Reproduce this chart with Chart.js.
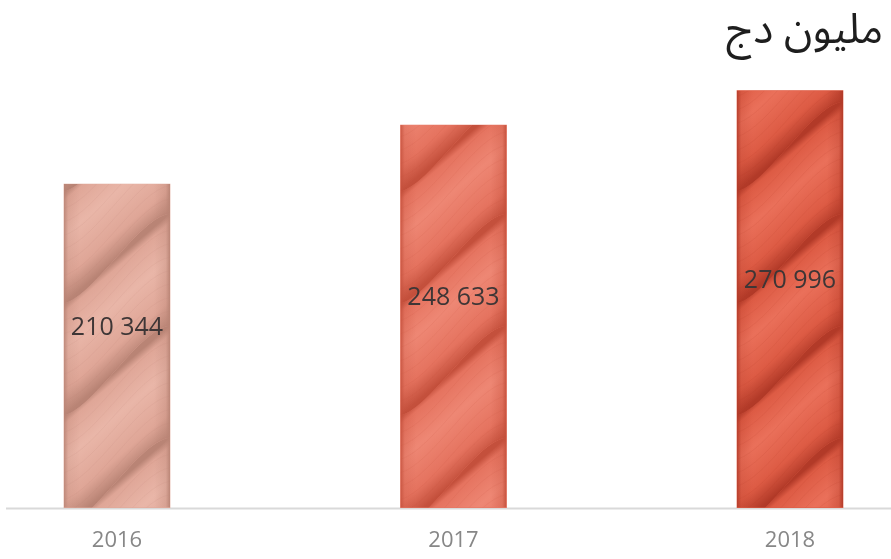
<!DOCTYPE html>
<html>
<head>
<meta charset="utf-8">
<script src="https://cdn.jsdelivr.net/npm/chart.js@4.4.1/dist/chart.umd.min.js"></script>
<style>
  html, body { margin: 0; padding: 0; background: #ffffff; }
  #wrap { width: 891px; height: 559px; }
</style>
</head>
<body>
<div id="wrap"><canvas id="c" width="891" height="559"></canvas></div>
<script>
// ---- data ----
const categories = ['2016', '2017', '2018'];
const values = [210344, 248633, 270996];
const valueLabels = ['210 344', '248 633', '270 996'];
const unitTitle = 'مليون دج';

// ---- styles ----
const baseColors  = ['#dfa697', '#e5735f', '#dd5b44'];
const lightColors = ['#e9b6a8', '#ee8774', '#ea705a'];
const darkColors  = ['#b98475', '#c4503c', '#b23a28'];

function hexToRgb(h) {
  const n = parseInt(h.slice(1), 16);
  return [(n >> 16) & 255, (n >> 8) & 255, n & 255];
}
function rgba(h, a) { const c = hexToRgb(h); return `rgba(${c[0]},${c[1]},${c[2]},${a})`; }

// rope texture drawn inside each bar element, from the element's own geometry
const ropePlugin = {
  id: 'rope',
  afterDatasetsDraw(chart) {
    const ctx = chart.ctx;
    const meta = chart.getDatasetMeta(0);
    meta.data.forEach((el, i) => {
      const p = el.getProps(['x', 'y', 'base', 'width'], true);
      const left = p.x - p.width / 2, right = p.x + p.width / 2;
      const top = p.y, bottom = p.base;
      const w = p.width;
      ctx.save();
      ctx.beginPath();
      ctx.rect(left, top, w, bottom - top);
      ctx.clip();
      const P = 112;          // strand period (vertical)
      const D = w * 0.85;     // rise across width
      const L = Math.hypot(w, D);
      const nx = D / L, ny = w / L;
      const dist = P * w / L;
      for (let k = -3; k * P < (bottom - top) + P * 2; k++) {
        const yk = bottom + 20 - k * P;
        const yk2 = yk + P;
        const path = new Path2D();
        path.moveTo(left, yk);
        path.bezierCurveTo(left + w * 0.3, yk - D * 0.1, left + w * 0.7, yk - D * 0.95, right, yk - D);
        path.lineTo(right, yk2 - D);
        path.bezierCurveTo(left + w * 0.7, yk2 - D * 0.95, left + w * 0.3, yk2 - D * 0.1, left, yk2);
        path.closePath();
        const cx = p.x, cy = yk - D / 2;
        const g = ctx.createLinearGradient(cx, cy, cx + nx * dist, cy + ny * dist);
        g.addColorStop(0, darkColors[i]);
        g.addColorStop(0.08, baseColors[i]);
        g.addColorStop(0.4, lightColors[i]);
        g.addColorStop(0.78, baseColors[i]);
        g.addColorStop(1, darkColors[i]);
        ctx.fillStyle = g;
        ctx.fill(path);
        // fibre hints
        ctx.strokeStyle = rgba(darkColors[i], 0.10);
        ctx.lineWidth = 1;
        for (let f = 0.15; f < 1; f += 0.12) {
          ctx.beginPath();
          ctx.moveTo(left, yk + P * f);
          ctx.bezierCurveTo(left + w * 0.3, yk + P * f - D * 0.1, left + w * 0.7, yk + P * f - D * 0.95, right, yk + P * f - D);
          ctx.stroke();
        }
      }
      // darker side edges
      const eg = ctx.createLinearGradient(left, 0, right, 0);
      eg.addColorStop(0, rgba(darkColors[i], 0.85));
      eg.addColorStop(0.04, rgba(darkColors[i], 0.2));
      eg.addColorStop(0.15, rgba(darkColors[i], 0));
      eg.addColorStop(0.85, rgba(darkColors[i], 0));
      eg.addColorStop(0.96, rgba(darkColors[i], 0.3));
      eg.addColorStop(1, rgba(darkColors[i], 0.95));
      ctx.fillStyle = eg;
      ctx.fillRect(left, top, w, bottom - top);
      ctx.restore();

      // value label
      ctx.save();
      ctx.font = '25px "Open Sans", "DejaVu Sans", sans-serif';
      ctx.fillStyle = '#3e3636';
      ctx.textAlign = 'center';
      ctx.textBaseline = 'middle';
      ctx.fillText(valueLabels[i], p.x, (top + bottom) / 2 - 18);
      ctx.restore();
    });
  }
};

// base line across the full width at the zero value, and unit title
const framePlugin = {
  id: 'frame',
  beforeDatasetsDraw(chart) {
    const ctx = chart.ctx;
    const y0 = chart.scales.y.getPixelForValue(0) + 1;
    ctx.save();
    ctx.strokeStyle = '#d9d9d9';
    ctx.lineWidth = 2;
    ctx.beginPath();
    ctx.moveTo(6, y0);
    ctx.lineTo(chart.width, y0);
    ctx.stroke();
    ctx.restore();
  },
  afterDraw(chart) {
    const ctx = chart.ctx;
    ctx.save();
    ctx.font = '42px "Noto Sans Arabic", "Noto Naskh Arabic", "DejaVu Sans", sans-serif';
    ctx.fillStyle = '#1e1e1e';
    ctx.textAlign = 'right';
    ctx.textBaseline = 'alphabetic';
    ctx.direction = 'rtl';
    ctx.fillText(unitTitle, chart.width - 8, 43);
    ctx.restore();
  }
};

new Chart(document.getElementById('c'), {
  type: 'bar',
  data: {
    labels: categories,
    datasets: [{
      data: values,
      backgroundColor: baseColors,
      borderWidth: 0,
      barThickness: 106,
      clip: false
    }]
  },
  options: {
    responsive: false,
    animation: false,
    devicePixelRatio: 1,
    layout: { padding: { top: 63, left: 117, right: 101, bottom: -15 } },
    plugins: {
      legend: { display: false },
      tooltip: { enabled: false },
      title: { display: false }
    },
    scales: {
      x: {
        offset: false,
        grid: { display: false, drawTicks: false },
        border: { display: false },
        ticks: {
          padding: 20,
          color: '#878787',
          font: { family: '"Open Sans", sans-serif', size: 22 }
        }
      },
      y: {
        display: false,
        min: 0,
        max: 289000
      }
    }
  },
  plugins: [ropePlugin, framePlugin]
});
</script>
</body>
</html>
